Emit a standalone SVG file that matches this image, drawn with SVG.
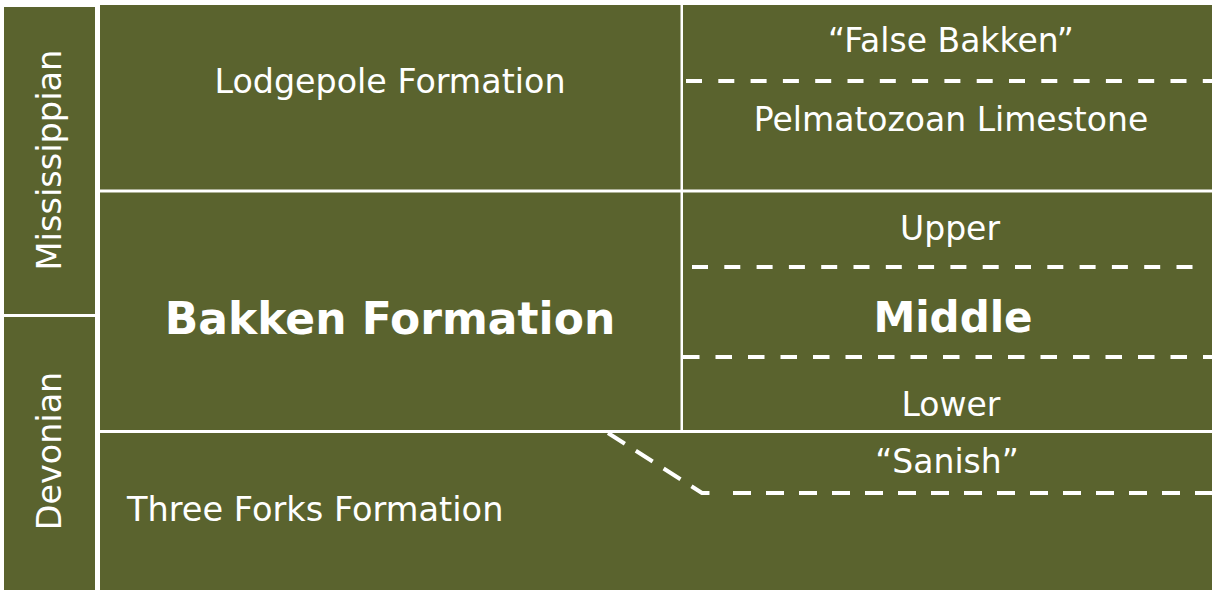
<svg xmlns="http://www.w3.org/2000/svg" width="1212" height="590" viewBox="0 0 1212 590">
  <style>
    .cell { fill: #5a632e; }
    .t { fill: #ffffff; font-family: "DejaVu Sans", Verdana, sans-serif; font-size: 33px; text-anchor: middle; }
    .b { fill: #ffffff; font-family: "DejaVu Sans", Verdana, sans-serif; font-size: 42px; font-weight: bold; text-anchor: middle; }
    .dash { fill: none; stroke: #ffffff; stroke-width: 4; stroke-dasharray: 16 16.3; }
  </style>
  <rect x="0" y="0" width="1212" height="590" fill="#ffffff"/>

  <g id="mississippian">
    <rect class="cell" x="4" y="7" width="91" height="307"/>
    <text class="t" transform="translate(61,160) rotate(-90)" style="font-size:33.6px">Mississippian</text>
  </g>
  <g id="devonian">
    <rect class="cell" x="4" y="317" width="91" height="273"/>
    <text class="t" transform="translate(61,451) rotate(-90)" style="font-size:33.4px">Devonian</text>
  </g>

  <g id="lodgepole">
    <rect class="cell" x="100" y="5" width="580.5" height="184.5"/>
    <text class="t" x="390" y="93" style="font-size:33.3px">Lodgepole Formation</text>
  </g>
  <g id="lodgepole-members">
    <rect class="cell" x="683" y="5" width="529" height="184.5"/>
    <text class="t" x="951" y="52">“False Bakken”</text>
    <text class="t" x="951" y="131">Pelmatozoan Limestone</text>
  </g>

  <g id="bakken">
    <rect class="cell" x="100" y="192.5" width="580.5" height="237.5"/>
    <text class="b" x="390" y="334" style="font-size:44px">Bakken Formation</text>
  </g>
  <g id="bakken-members">
    <rect class="cell" x="683" y="192.5" width="529" height="237.5"/>
    <text class="t" x="950" y="240">Upper</text>
    <text class="b" x="953" y="332">Middle</text>
    <text class="t" x="951" y="416">Lower</text>
  </g>

  <g id="three-forks">
    <rect class="cell" x="100" y="433" width="1112" height="157"/>
    <text class="t" x="947" y="473">“Sanish”</text>
    <text class="t" x="127" y="521" style="text-anchor:start;font-size:33.6px">Three Forks Formation</text>
  </g>

  <g id="connectors">
    <path class="dash" d="M686,81 H1212"/>
    <path class="dash" d="M692,267 H1200"/>
    <path class="dash" d="M683,357 H1212" style="stroke-dasharray:16.5 16"/>
    <path class="dash" d="M608,433 L702,493 L710,493" style="stroke-dasharray:20 13;stroke-linejoin:round"/>
    <path class="dash" d="M733,493 H1212" style="stroke-dasharray:18 15"/>
  </g>
</svg>
